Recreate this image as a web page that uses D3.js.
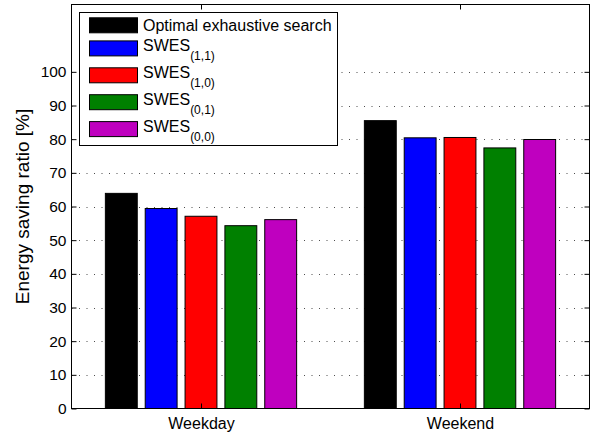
<!DOCTYPE html>
<html>
<head>
<meta charset="utf-8">
<script src="https://cdn.jsdelivr.net/npm/d3@7"></script>
<style>
  html, body { margin: 0; padding: 0; background: #fff; }
  svg { display: block; font-family: "Liberation Sans", Arial, Helvetica, sans-serif; }
</style>
</head>
<body>
<svg id="chart" width="608" height="435"></svg>
<script>
// Energy saving ratio per scheme, weekday vs weekend
const categories = ["Weekday", "Weekend"];
const seriesNames = ["Optimal exhaustive search", "SWES", "SWES", "SWES", "SWES"];
const seriesSubscripts = ["", "(1,1)", "(1,0)", "(0,1)", "(0,0)"];
const seriesColors = ["#000000", "#0000ff", "#ff0000", "#008000", "#bf00bf"];
const weekdayValues = [63.9, 59.4, 57.1, 54.3, 56.1];
const weekendValues = [85.5, 80.4, 80.5, 77.4, 79.9];
const yTicks = [0, 10, 20, 30, 40, 50, 60, 70, 80, 90, 100];
const yLabel = "Energy saving ratio [%]";

const values = [weekdayValues, weekendValues];

const svg = d3.select("#chart");
const plot = { left: 71.5, right: 589.5, top: 4.5, bottom: 408.5 };

// Category positions 1..n on a numeric axis spanning [0.5, n + 0.5]
const x = d3.scaleLinear().domain([0.5, categories.length + 0.5]).range([plot.left, plot.right]);
const y = d3.scaleLinear().domain([0, 120]).range([plot.bottom, plot.top]);

// Grouped bar geometry (5 bars per group)
const nSeries = seriesNames.length;
const groupWidth = Math.min(0.8, nSeries / (nSeries + 1.5));
const slot = groupWidth / nSeries;
const barWidth = slot * 0.8;
const offset = i => -groupWidth / 2 + slot * (i + 0.5);

// Horizontal dotted grid
svg.append("g")
  .selectAll("line")
  .data(yTicks.filter(t => t > 0))
  .join("line")
  .attr("x1", plot.left).attr("x2", plot.right)
  .attr("y1", d => Math.round(y(d)) + 0.5).attr("y2", d => Math.round(y(d)) + 0.5)
  .attr("stroke", "#4d4d4d")
  .attr("stroke-width", 1)
  .attr("stroke-dasharray", "1,6.5");

// Bars
const bars = [];
values.forEach((vals, c) => vals.forEach((v, s) => bars.push({ c, s, v })));
svg.append("g")
  .selectAll("rect")
  .data(bars)
  .join("rect")
  .attr("x", d => x(d.c + 1 + offset(d.s) - barWidth / 2))
  .attr("width", d => x(barWidth) - x(0))
  .attr("y", d => y(d.v))
  .attr("height", d => y(0) - y(d.v))
  .attr("fill", d => seriesColors[d.s])
  .attr("stroke", "#000")
  .attr("stroke-width", 1);

// Axes with inward ticks on all four sides
const tickLen = 5;
const leftAxis = d3.axisLeft(y).tickValues(yTicks).tickSize(-tickLen).tickPadding(5);
const rightAxis = d3.axisRight(y).tickValues(yTicks).tickSize(-tickLen).tickFormat("");
const xTicks = categories.map((_, i) => i + 1);
const bottomAxis = d3.axisBottom(x).tickValues(xTicks).tickSize(-tickLen)
  .tickFormat((d, i) => categories[i]).tickPadding(20);
const topAxis = d3.axisTop(x).tickValues(xTicks).tickSize(-tickLen).tickFormat("");

function styleAxis(g, size) {
  g.select(".domain").remove();
  g.selectAll(".tick line").attr("stroke", "#000");
  g.selectAll(".tick text").attr("fill", "#000").attr("font-size", size)
    .attr("font-family", "Liberation Sans, Arial, sans-serif");
}

svg.append("g").attr("transform", `translate(${plot.left},0)`).call(leftAxis).call(styleAxis, 15.5);
svg.append("g").attr("transform", `translate(${plot.right},0)`).call(rightAxis).call(styleAxis, 15.5);
const xAxisG = svg.append("g").attr("transform", `translate(0,${plot.bottom})`).call(bottomAxis).call(styleAxis, 16);
xAxisG.selectAll(".tick text").attr("dy", 0);
svg.append("g").attr("transform", `translate(0,${plot.top})`).call(topAxis).call(styleAxis, 16);

// Axes box
svg.append("rect")
  .attr("x", plot.left).attr("y", plot.top)
  .attr("width", plot.right - plot.left).attr("height", plot.bottom - plot.top)
  .attr("fill", "none").attr("stroke", "#000").attr("stroke-width", 1);

// Y axis title
svg.append("text")
  .attr("transform", `translate(28.5,${(plot.top + plot.bottom) / 2}) rotate(-90)`)
  .attr("text-anchor", "middle")
  .attr("font-size", 19)
  .attr("fill", "#000")
  .text(yLabel);

// Legend
const legend = svg.append("g");
legend.append("rect")
  .attr("x", 79.5).attr("y", 12.5).attr("width", 258).attr("height", 133)
  .attr("fill", "#fff").attr("stroke", "#000").attr("stroke-width", 1);

const rowY = i => (i === 0 ? 25.3 : 48.4 + (i - 1) * 26.9);
const items = legend.selectAll("g.item")
  .data(seriesNames.map((name, i) => ({ name, sub: seriesSubscripts[i], color: seriesColors[i], i })))
  .join("g")
  .attr("class", "item");

items.append("rect")
  .attr("x", 89.5)
  .attr("y", d => rowY(d.i) - 7.5)
  .attr("width", 48).attr("height", 15)
  .attr("fill", d => d.color)
  .attr("stroke", "#000").attr("stroke-width", 1);

const labels = items.append("text")
  .attr("x", 143)
  .attr("y", d => d.sub ? rowY(d.i) + 3 : rowY(d.i) + 5.5)
  .attr("font-size", 16)
  .attr("fill", "#000");
labels.append("tspan").text(d => d.name);
labels.filter(d => d.sub).append("tspan")
  .attr("dy", 9)
  .attr("font-size", 12)
  .text(d => d.sub);
</script>
</body>
</html>
